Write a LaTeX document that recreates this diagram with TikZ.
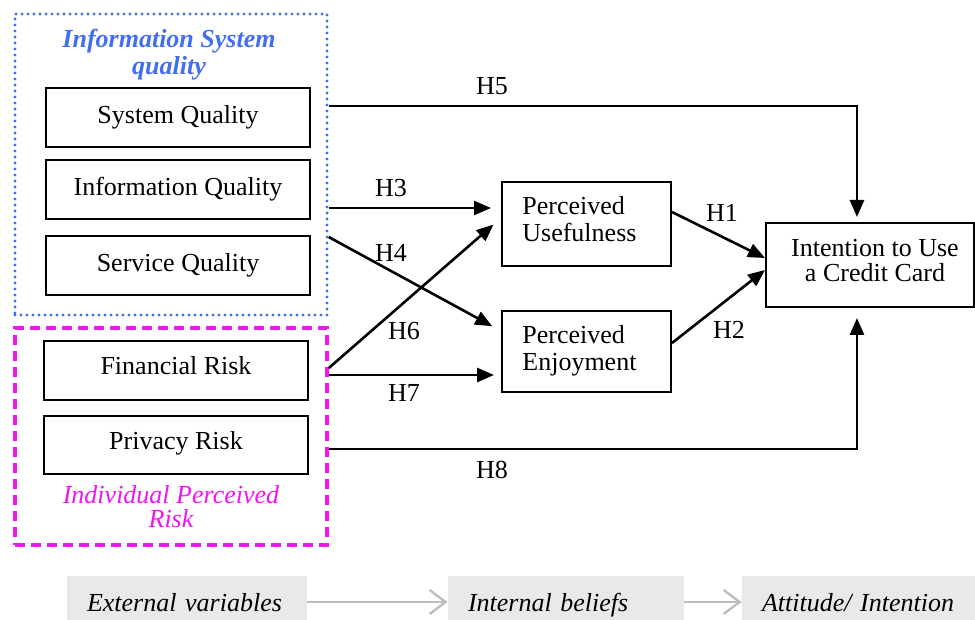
\documentclass[tikz,border=0pt]{standalone}
\usepackage{fontspec}
\setmainfont{Liberation Serif}
\usetikzlibrary{arrows.meta}
\definecolor{isblue}{RGB}{66,110,240}
\definecolor{riskmag}{RGB}{240,20,240}
\definecolor{bandgray}{RGB}{233,233,233}
\definecolor{flowgray}{RGB}{190,190,190}
\begin{document}
\begin{tikzpicture}[x=0.5pt,y=-0.5pt,
  every node/.style={font=\fontsize{13}{13.5}\selectfont},
  construct/.style={draw=black,line width=1pt,rectangle,inner sep=0pt,align=center},
  boxtext/.style={inner sep=0pt,align=left,anchor=west},
  hyp/.style={draw=black,line width=1.3pt,-{Triangle[length=8.5pt,width=7pt]}},
  hlabel/.style={inner sep=0pt},
  stage/.style={fill=bandgray,draw=none,inner ysep=0pt,inner xsep=10pt,align=left,
    minimum height=22pt,text height=13pt,text depth=0pt,
    font=\fontsize{13}{13.5}\selectfont\itshape},
  flow/.style={draw=flowgray,line width=1.2pt,-{Straight Barb[length=8pt,width=12pt,line width=1.2pt]}}
]
\useasboundingbox (0,0) rectangle (975,620);

% group frames
\node[draw=isblue,line width=1.7pt,dash pattern=on 0pt off 3pt,line cap=round,
      minimum width=156pt,minimum height=150.5pt,inner sep=0pt] (isq) at (171,164.5) {};
\node[draw=riskmag,line width=1.8pt,dash pattern=on 5pt off 3pt,
      minimum width=156pt,minimum height=108.5pt,inner sep=0pt] (irisk) at (171,436.5) {};
\node[text=isblue,font=\fontsize{13}{13.5}\selectfont\bfseries\itshape,align=center,inner sep=0pt]
      (isqtitle) at (169,54.5) {Information System\\quality};
\node[text=riskmag,font=\fontsize{13}{12}\selectfont\itshape,align=center,inner sep=0pt]
      (risktitle) at (171,507) {Individual Perceived\\Risk};

% constructs
\node[construct,minimum width=132pt,minimum height=29.5pt] (sq)  at (178,117.5) {System Quality};
\node[construct,minimum width=132pt,minimum height=29.5pt] (iq)  at (178,189.5) {Information Quality};
\node[construct,minimum width=132pt,minimum height=29.5pt] (svq) at (178,265.5) {Service Quality};
\node[construct,minimum width=132pt,minimum height=29.5pt,text depth=5pt] (fr) at (176,370.5) {Financial Risk};
\node[construct,minimum width=132pt,minimum height=29pt,text depth=5pt]   (pr) at (176,445)   {Privacy Risk};
\node[construct,minimum width=84.5pt,minimum height=42pt] (pu) at (586.5,224) {};
\node[boxtext] (putext) at ([xshift=10.5pt,yshift=2.5pt]pu.west) {Perceived\\Usefulness};
\node[construct,minimum width=84.5pt,minimum height=40.5pt] (pe) at (586.5,351.5) {};
\node[boxtext] (petext) at ([xshift=10.5pt,yshift=0.5pt]pe.west) {Perceived\\Enjoyment};
\node[construct,minimum width=104pt,minimum height=42pt] (it) at (870,265) {};
\node[inner sep=0pt,align=center,font=\fontsize{13}{12.5}\selectfont]
      (ittext) at ([xshift=2.5pt,yshift=2pt]it.center) {Intention to Use\\a Credit Card};

% hypotheses
\draw[hyp,shorten >=2.5pt] (isq.east |- 0,106) -| ([xshift=-6.5pt]it.north);
\draw[hyp,shorten >=5pt] (isq.east |- 0,208) -- (pu.west |- 0,208);
\draw[hyp,shorten >=5pt] (isq.east |- 0,237) -- (pe.west |- 0,331);
\draw[hyp,shorten >=5pt] (irisk.east |- 0,368) -- (pu.west |- 0,218);
\draw[hyp,shorten >=3.5pt] (irisk.east |- 0,375) -- (pe.west |- 0,375);
\draw[hyp] (pu.east |- 0,212) -- (it.west |- 0,258);
\draw[hyp] (pe.east |- 0,343) -- (it.west |- 0,270);
\draw[hyp,shorten >=5pt] (irisk.east |- 0,449) -| ([xshift=-6.5pt]it.south);

\node[hlabel] (h5) at (492,86)  {H5};
\node[hlabel] (h3) at (391,188) {H3};
\node[hlabel] (h4) at (391,253) {H4};
\node[hlabel] (h6) at (404,331) {H6};
\node[hlabel] (h7) at (404,393) {H7};
\node[hlabel] (h1) at (722,213) {H1};
\node[hlabel] (h2) at (729,330) {H2};
\node[hlabel] (h8) at (492,470) {H8};

% stages band
\node[stage,text width=100pt] (ext) at (187,598)   {External variables};
\node[stage,text width=98pt]  (int) at (566,598)   {Internal beliefs};
\node[stage,text width=96.5pt] (att) at (858.5,598) {Attitude/ Intention};
\draw[flow] ([yshift=-2pt]ext.east) -- ([yshift=-2pt]int.west);
\draw[flow] ([yshift=-2pt]int.east) -- ([yshift=-2pt]att.west);
\end{tikzpicture}
\end{document}
